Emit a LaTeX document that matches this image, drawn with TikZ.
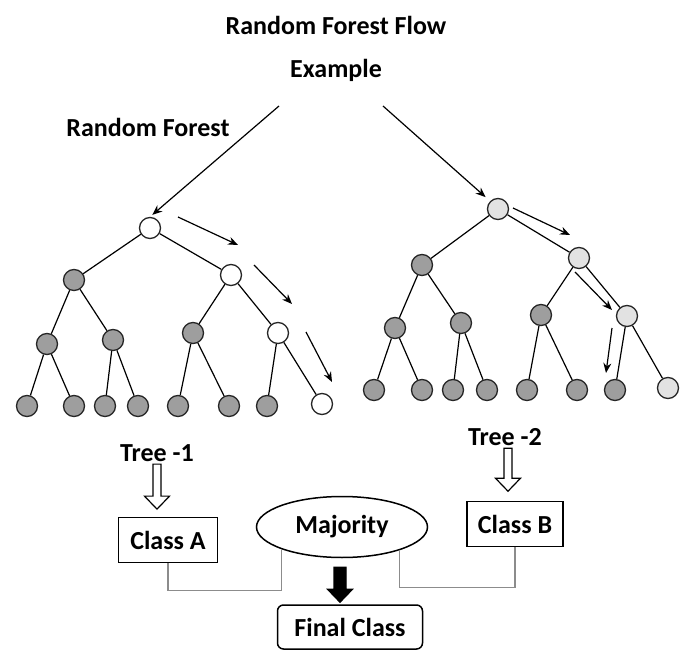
\documentclass[tikz,border=0pt]{standalone}
\usepackage{fontspec}
\setmainfont{Carlito}
\usetikzlibrary{arrows.meta,shapes.geometric,positioning}

\definecolor{nodegray}{RGB}{158,158,158}
\definecolor{nodepale}{RGB}{226,226,226}
\definecolor{linkgray}{RGB}{140,140,140}

\tikzset{
	tnode/.style={circle,draw=black!85,line width=1.3pt,minimum size=21pt,inner sep=0pt},
	dark/.style={tnode,fill=nodegray},
	blank/.style={tnode,fill=white},
	pale/.style={tnode,fill=nodepale},
	lbl/.style={font=\bfseries\fontsize{26}{30}\selectfont,inner sep=0pt},
	classbox/.style={draw,line width=1.5pt,minimum height=45pt,lbl},
}

\begin{document}
\begin{tikzpicture}[x=1pt,y=-1pt,>={Stealth[length=10pt,width=8pt]},line width=1.2pt]
	\useasboundingbox (0,0) rectangle (686,650);
	
	% titles
	\path (336,25) node[lbl](title){Random Forest Flow}
		  (336,70) node[lbl](ex){Example}
		  (148,127) node[lbl](rf){Random Forest};
	
	% tree 1
	\node[blank](t1r) at (150,228){};
	\node[dark](t1a) at (74,280){};
	\node[blank](t1b) at (231,275){};
	\node[dark](t1c) at (47,344){};
	\node[dark](t1d) at (113,340){};
	\node[dark](t1e) at (193,333){};
	\node[blank](t1f) at (278,333){};
	\foreach \x/\n in {27/1,74/2,105/3,138/4,178/5,229/6,267/7}
		\node[dark](t1l\n) at (\x,406){};
	\node[blank](t1l8) at (322,404){};
	
	\path (t1r) edge (t1a) edge (t1b)
		  (t1a) edge (t1c) edge (t1d)
		  (t1b) edge (t1e) edge (t1f)
		  (t1c) edge (t1l1) edge (t1l2)
		  (t1d) edge (t1l3) edge (t1l4)
		  (t1e) edge (t1l5) edge (t1l6)
		  (t1f) edge (t1l7) edge (t1l8);
	
	% tree 2
	\node[pale](t2r) at (498,209){};
	\node[dark](t2a) at (422,265){};
	\node[pale](t2b) at (579,258){};
	\node[dark](t2c) at (395,328){};
	\node[dark](t2d) at (461,323){};
	\node[dark](t2e) at (541,315){};
	\node[pale](t2f) at (627,316){};
	\foreach \x/\n in {374/1,422/2,453/3,487/4,527/5,577/6,615/7}
		\node[dark](t2l\n) at (\x,390){};
	\node[pale](t2l8) at (668,388){};
	
	\path (t2r) edge (t2a) edge (t2b)
		  (t2a) edge (t2c) edge (t2d)
		  (t2b) edge (t2e) edge (t2f)
		  (t2c) edge (t2l1) edge (t2l2)
		  (t2d) edge (t2l3) edge (t2l4)
		  (t2e) edge (t2l5) edge (t2l6)
		  (t2f) edge (t2l7) edge (t2l8);
	
	% split arrows
	\coordinate (s1) at (279,106);
	\coordinate (s2) at (383,106);
	\draw[->,shorten >=3pt] (s1) -- (t1r.north);
	\draw[->,shorten >=6pt] (s2) -- (t2r.north west);
	
	% decision paths
	\coordinate (p1) at (178,217); \coordinate (q1) at (238,245);
	\coordinate (p2) at (254,265); \coordinate (q2) at (292,304);
	\coordinate (p3) at (306,332); \coordinate (q3) at (332,382);
	\coordinate (p4) at (513,208); \coordinate (q4) at (570,235);
	\coordinate (p5) at (575,272); \coordinate (q5) at (612,310);
	\coordinate (p6) at (612,328); \coordinate (q6) at (606,373);
	\foreach \a/\b in {p1/q1,p2/q2,p3/q3,p4/q4,p5/q5,p6/q6}
		\draw[->] (\a) -- (\b);
	
	% results
	\node[lbl](tr1) at (157,453){Tree -1};
	\node[lbl](tr2) at (505,437){Tree -2};
	\node[classbox,minimum width=99pt](cA) at (168,540){Class A};
	\node[classbox,minimum width=96pt](cB) at (515,524){Class B};
	\node[ellipse,draw,line width=1.5pt,minimum width=171pt,minimum height=61pt,lbl](maj) at (342,527){Majority};
	\node[classbox,rounded corners=6pt,minimum width=145pt,minimum height=44pt](fin) at (350,627){Final Class};
	
	% hollow arrows
	\draw[line width=1.2pt,fill=white] ([xshift=-4pt]tr1.south) ++(0,2) -- ++(0,32) -- ++(-8.5,0)
		-- ++(12.5,13) -- ++(12.5,-13) -- ++(-8.5,0) -- ++(0,-32) -- cycle;
	\draw[line width=1.2pt,fill=white] ([xshift=-1pt]tr2.south) ++(0,2) -- ++(0,30) -- ++(-8.5,0)
		-- ++(12.5,13) -- ++(12.5,-13) -- ++(-8.5,0) -- ++(0,-30) -- cycle;
	\draw[fill=black] ([xshift=-8pt]maj.south) ++(0,9) -- ++(0,22) -- ++(-6.5,0)
		-- ++(12.5,13) -- ++(12.5,-13) -- ++(-6.5,0) -- ++(0,-22) -- cycle;
	
	% links to majority
	\draw[linkgray,line width=1.2pt] (cA.south) -- ++(0,27) -| (maj.200);
	\draw[linkgray,line width=1.2pt] (cB.south) -- ++(0,40) -| (maj.338);
\end{tikzpicture}
\end{document}
